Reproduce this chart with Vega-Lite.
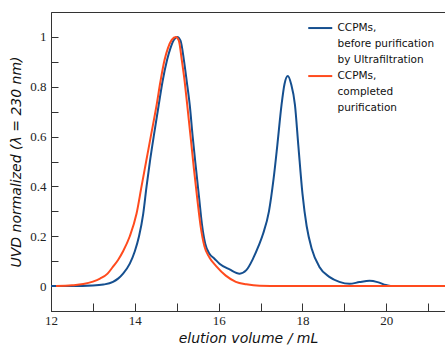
{
  "$schema": "https://vega.github.io/schema/vega-lite/v6.json",
  "autosize": {"type": "none"},
  "width": 394,
  "height": 299,
  "padding": {"left": 51, "top": 12, "right": 0, "bottom": 40},
  "config": {
    "view": {"stroke": "#333333", "strokeWidth": 1},
    "axis": {"domainColor": "#333333", "tickColor": "#333333", "tickWidth": 1, "ticks": true, "labelColor": "#222222", "titleColor": "#111111", "grid": false,
      "titleFont": "DejaVu Sans", "titleFontSize": 14, "titleFontWeight": "normal", "titleFontStyle": "italic"}
  },
  "data": {"values": [
    {"v": 12.0, "uvd": 0, "s": "before"},
    {"v": 12.5, "uvd": 0, "s": "before"},
    {"v": 13.0, "uvd": 0.002, "s": "before"},
    {"v": 13.25, "uvd": 0.006, "s": "before"},
    {"v": 13.48, "uvd": 0.017, "s": "before"},
    {"v": 13.6, "uvd": 0.03, "s": "before"},
    {"v": 13.72, "uvd": 0.05, "s": "before"},
    {"v": 13.88, "uvd": 0.09, "s": "before"},
    {"v": 14.0, "uvd": 0.14, "s": "before"},
    {"v": 14.1, "uvd": 0.2, "s": "before"},
    {"v": 14.2, "uvd": 0.29, "s": "before"},
    {"v": 14.28, "uvd": 0.4, "s": "before"},
    {"v": 14.36, "uvd": 0.5, "s": "before"},
    {"v": 14.45, "uvd": 0.6, "s": "before"},
    {"v": 14.57, "uvd": 0.727, "s": "before"},
    {"v": 14.66, "uvd": 0.82, "s": "before"},
    {"v": 14.77, "uvd": 0.908, "s": "before"},
    {"v": 14.85, "uvd": 0.955, "s": "before"},
    {"v": 14.93, "uvd": 0.988, "s": "before"},
    {"v": 15.01, "uvd": 1.0, "s": "before"},
    {"v": 15.09, "uvd": 0.985, "s": "before"},
    {"v": 15.17, "uvd": 0.908, "s": "before"},
    {"v": 15.24, "uvd": 0.82, "s": "before"},
    {"v": 15.31, "uvd": 0.727, "s": "before"},
    {"v": 15.38, "uvd": 0.6, "s": "before"},
    {"v": 15.46, "uvd": 0.47, "s": "before"},
    {"v": 15.53, "uvd": 0.36, "s": "before"},
    {"v": 15.6, "uvd": 0.25, "s": "before"},
    {"v": 15.68, "uvd": 0.17, "s": "before"},
    {"v": 15.78, "uvd": 0.13, "s": "before"},
    {"v": 15.9, "uvd": 0.11, "s": "before"},
    {"v": 16.02, "uvd": 0.09, "s": "before"},
    {"v": 16.26, "uvd": 0.067, "s": "before"},
    {"v": 16.5, "uvd": 0.05, "s": "before"},
    {"v": 16.66, "uvd": 0.064, "s": "before"},
    {"v": 16.82, "uvd": 0.11, "s": "before"},
    {"v": 16.95, "uvd": 0.16, "s": "before"},
    {"v": 17.06, "uvd": 0.21, "s": "before"},
    {"v": 17.2, "uvd": 0.3, "s": "before"},
    {"v": 17.31, "uvd": 0.43, "s": "before"},
    {"v": 17.4, "uvd": 0.566, "s": "before"},
    {"v": 17.5, "uvd": 0.727, "s": "before"},
    {"v": 17.57, "uvd": 0.81, "s": "before"},
    {"v": 17.65, "uvd": 0.843, "s": "before"},
    {"v": 17.73, "uvd": 0.81, "s": "before"},
    {"v": 17.82, "uvd": 0.727, "s": "before"},
    {"v": 17.9, "uvd": 0.566, "s": "before"},
    {"v": 18.0, "uvd": 0.37, "s": "before"},
    {"v": 18.1, "uvd": 0.24, "s": "before"},
    {"v": 18.22, "uvd": 0.15, "s": "before"},
    {"v": 18.4, "uvd": 0.078, "s": "before"},
    {"v": 18.64, "uvd": 0.037, "s": "before"},
    {"v": 18.88, "uvd": 0.017, "s": "before"},
    {"v": 19.12, "uvd": 0.009, "s": "before"},
    {"v": 19.36, "uvd": 0.016, "s": "before"},
    {"v": 19.6, "uvd": 0.021, "s": "before"},
    {"v": 19.79, "uvd": 0.016, "s": "before"},
    {"v": 19.99, "uvd": 0.004, "s": "before"},
    {"v": 20.1, "uvd": 0, "s": "before"},
    {"v": 12.12, "uvd": 0, "s": "completed"},
    {"v": 12.5, "uvd": 0.003, "s": "completed"},
    {"v": 12.77, "uvd": 0.008, "s": "completed"},
    {"v": 13.0, "uvd": 0.018, "s": "completed"},
    {"v": 13.17, "uvd": 0.03, "s": "completed"},
    {"v": 13.35, "uvd": 0.05, "s": "completed"},
    {"v": 13.48, "uvd": 0.078, "s": "completed"},
    {"v": 13.6, "uvd": 0.105, "s": "completed"},
    {"v": 13.72, "uvd": 0.14, "s": "completed"},
    {"v": 13.88, "uvd": 0.2, "s": "completed"},
    {"v": 14.04, "uvd": 0.29, "s": "completed"},
    {"v": 14.16, "uvd": 0.4, "s": "completed"},
    {"v": 14.27, "uvd": 0.5, "s": "completed"},
    {"v": 14.38, "uvd": 0.6, "s": "completed"},
    {"v": 14.52, "uvd": 0.727, "s": "completed"},
    {"v": 14.61, "uvd": 0.82, "s": "completed"},
    {"v": 14.71, "uvd": 0.908, "s": "completed"},
    {"v": 14.79, "uvd": 0.955, "s": "completed"},
    {"v": 14.88, "uvd": 0.988, "s": "completed"},
    {"v": 14.98, "uvd": 1.0, "s": "completed"},
    {"v": 15.05, "uvd": 0.985, "s": "completed"},
    {"v": 15.12, "uvd": 0.908, "s": "completed"},
    {"v": 15.19, "uvd": 0.82, "s": "completed"},
    {"v": 15.25, "uvd": 0.727, "s": "completed"},
    {"v": 15.33, "uvd": 0.6, "s": "completed"},
    {"v": 15.41, "uvd": 0.47, "s": "completed"},
    {"v": 15.49, "uvd": 0.35, "s": "completed"},
    {"v": 15.57, "uvd": 0.24, "s": "completed"},
    {"v": 15.66, "uvd": 0.16, "s": "completed"},
    {"v": 15.78, "uvd": 0.115, "s": "completed"},
    {"v": 15.94, "uvd": 0.08, "s": "completed"},
    {"v": 16.17, "uvd": 0.042, "s": "completed"},
    {"v": 16.41, "uvd": 0.017, "s": "completed"},
    {"v": 16.66, "uvd": 0.007, "s": "completed"},
    {"v": 16.98, "uvd": 0.001, "s": "completed"},
    {"v": 17.5, "uvd": 0, "s": "completed"},
    {"v": 18.5, "uvd": 0, "s": "completed"},
    {"v": 19.5, "uvd": 0, "s": "completed"},
    {"v": 20.5, "uvd": 0, "s": "completed"},
    {"v": 21.4, "uvd": 0, "s": "completed"}
  ]},
  "mark": {"type": "line", "interpolate": "monotone", "strokeWidth": 2, "clip": true},
  "encoding": {
    "x": {"field": "v", "type": "quantitative",
      "scale": {"domain": [12, 21.4], "nice": false, "zero": false},
      "axis": {"title": "elution volume  /  mL", "values": [12, 13, 14, 15, 16, 17, 18, 19, 20, 21],
        "labelFont": "Liberation Serif", "labelFontSize": 13,
        "labelExpr": "datum.value % 2 === 0 ? datum.label : ''",
        "tickSize": -8,
        "encode": {"ticks": {"update": {"y2": {"signal": "datum.value % 2 === 0 ? -8 : -4"}}}},
        "labelPadding": 11, "titlePadding": 4, "labelFlush": false, "labelOverlap": false}},
    "y": {"field": "uvd", "type": "quantitative",
      "scale": {"domain": [-0.1, 1.1], "nice": false, "zero": false},
      "axis": {"title": "UVD normalized (λ = 230 nm)", "values": [0, 0.1, 0.2, 0.3, 0.4, 0.5, 0.6, 0.7, 0.8, 0.9, 1.0],
        "labelFont": "Liberation Serif", "labelFontSize": 13,
        "labelExpr": "round(datum.value*10) % 2 === 0 ? (datum.value == 1 ? '1' : datum.value == 0 ? '0' : format(datum.value, '.1f')) : ''",
        "tickSize": -7,
        "encode": {"ticks": {"update": {"x2": {"signal": "round(datum.value*10) % 2 === 0 ? 7 : 4"}}}},
        "labelPadding": 12, "titlePadding": 6, "labelFlush": false, "labelOverlap": false}},
    "color": {"field": "s", "type": "nominal",
      "scale": {"domain": ["before", "completed"], "range": ["#154f8f", "#ff4b1e"]},
      "legend": {"title": null, "orient": "none", "legendX": 264, "legendY": 6,
        "symbolType": "M-3,1.2H3", "symbolSize": 64, "symbolStrokeWidth": 2,
        "labelFont": "DejaVu Sans", "labelFontSize": 10.5, "labelColor": "#111111", "labelBaseline": "top", "labelOffset": 12, "labelLimit": 0,
        "rowPadding": -5,
        "labelExpr": "datum.label == 'before' ? ['CCPMs,', 'before  purification', 'by Ultrafiltration'] : ['CCPMs,', 'completed', 'purification']",
        "encode": {"labels": {"update": {"lineHeight": {"value": 16}}}}}}
  }
}
